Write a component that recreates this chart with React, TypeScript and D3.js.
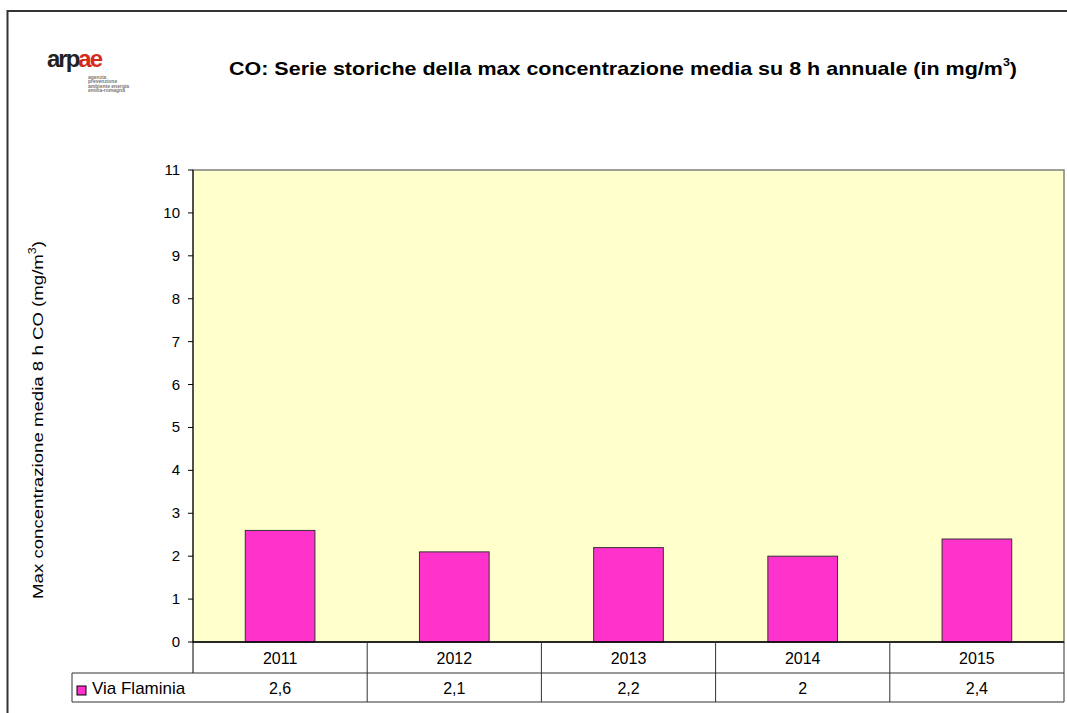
import React from "react";
import * as d3 from "d3";

const categories = ["2011", "2012", "2013", "2014", "2015"];
const seriesName = "Via Flaminia";
const values = [2.6, 2.1, 2.2, 2.0, 2.4];
const valueLabels = ["2,6", "2,1", "2,2", "2", "2,4"];
const yTicks = [0, 1, 2, 3, 4, 5, 6, 7, 8, 9, 10, 11];

export default function App() {
  const W = 1067, H = 713;
  const plot = { left: 193, right: 1064, top: 170, bottom: 642 };
  const row1 = 673, row2 = 702, legendLeft = 72;
  const x = d3.scaleBand().domain(categories).range([plot.left, plot.right]).paddingInner(0.6).paddingOuter(0.3);
  const xc = d3.scaleBand().domain(categories).range([plot.left, plot.right]);
  const y = d3.scaleLinear().domain([0, 11]).range([plot.bottom, plot.top]);
  const font = "Arial, 'Liberation Sans', sans-serif";
  return (
    <svg width={W} height={H} style={{ position: "absolute", left: 0, top: 0 }} fontFamily={font}>
      <rect x={0} y={0} width={W} height={H} fill="#fff" />
      <rect x={7.5} y={11} width={W + 20} height={H + 20} fill="none" stroke="#333" strokeWidth={2} />
      {/* logo */}
      <text x={47} y={67} fontSize={24} fontWeight="bold" fill="#222" letterSpacing={-2} textLength={54} lengthAdjust="spacingAndGlyphs">
        arp<tspan fill="#d42a20">ae</tspan>
      </text>
      <g fontSize={5} fill="#777" fontWeight="bold">
        <text x={88} y={78.5}>agenzia</text>
        <text x={88} y={83}>prevenzione</text>
        <text x={88} y={87.5}>ambiente energia</text>
        <text x={88} y={92}>emilia-romagna</text>
      </g>
      {/* title */}
      <text x={229} y={75} fontSize={19} fontWeight="bold" fill="#000" textLength={788} lengthAdjust="spacingAndGlyphs">
        CO: Serie storiche della max concentrazione media su 8 h annuale (in mg/m
        <tspan dy={-9} fontSize={11}>3</tspan>
        <tspan dy={9}>)</tspan>
      </text>
      {/* plot */}
      <rect x={plot.left} y={plot.top} width={plot.right - plot.left} height={plot.bottom - plot.top} fill="#FFFFCC" stroke="#808080" strokeWidth={1.5} />
      {values.map((v, i) => (
        <rect key={i} x={x(categories[i])!} y={y(v)} width={x.bandwidth()} height={y(0) - y(v)} fill="#FF33CC" stroke="#333" strokeWidth={1} />
      ))}
      <line x1={plot.left} x2={plot.left} y1={plot.top} y2={row1} stroke="#000" strokeWidth={1} />
      {yTicks.map((t) => (
        <g key={t}>
          <line x1={plot.left - 5} x2={plot.left} y1={y(t)} y2={y(t)} stroke="#000" />
          <text x={180} y={y(t) + 5} fontSize={15} textAnchor="end" fill="#000">{t}</text>
        </g>
      ))}
      <line x1={plot.left} x2={plot.right} y1={plot.bottom} y2={plot.bottom} stroke="#000" strokeWidth={1.5} />
      {/* y label */}
      <text transform={`translate(43,420) rotate(-90)`} fontSize={15} textAnchor="middle" fill="#000" textLength={358} lengthAdjust="spacingAndGlyphs">
        Max concentrazione media 8 h CO (mg/m<tspan dy={-7} fontSize={10}>3</tspan><tspan dy={7}>)</tspan>
      </text>
      {/* data table */}
      <g stroke="#333" strokeWidth={1} fill="none">
        <line x1={plot.left} x2={plot.right} y1={row1} y2={row1} />
        <line x1={legendLeft} x2={plot.right} y1={row2} y2={row2} />
        <line x1={legendLeft} x2={plot.left} y1={row1} y2={row1} />
        <line x1={legendLeft} x2={legendLeft} y1={row1} y2={row2} />
        {categories.map((c) => (
          <line key={c} x1={xc(c)! + xc.bandwidth()} x2={xc(c)! + xc.bandwidth()} y1={plot.bottom} y2={row2} />
        ))}
      </g>
      {categories.map((c, i) => (
        <g key={c}>
          <text x={xc(c)! + xc.bandwidth() / 2} y={(plot.bottom + row1) / 2 + 6} fontSize={16} textAnchor="middle">{c}</text>
          <text x={xc(c)! + xc.bandwidth() / 2} y={(row1 + row2) / 2 + 6} fontSize={16} textAnchor="middle">{valueLabels[i]}</text>
        </g>
      ))}
      <rect x={77} y={686} width={9} height={9} fill="#FF33CC" stroke="#000" strokeWidth={1} />
      <text x={92} y={694} fontSize={17}>{seriesName}</text>
    </svg>
  );
}
